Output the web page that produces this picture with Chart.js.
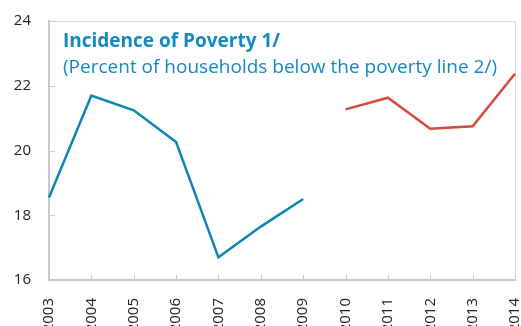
<!DOCTYPE html>
<html>
<head>
<meta charset="utf-8">
<script src="https://cdn.jsdelivr.net/npm/chart.js@4"></script>
<style>
  html, body { margin: 0; padding: 0; background: #fff; overflow: hidden; }
  #wrap { width: 521px; height: 346px; }
</style>
</head>
<body>
<div id="wrap"><canvas id="povertyChart" width="521" height="346"></canvas></div>
<script>
// Years on the x axis
const years = ['2003', '2004', '2005', '2006', '2007', '2008', '2009', '2010', '2011', '2012', '2013', '2014'];
// Old methodology (2003-2009) and new one (2010-2014)
const oldSeries = [18.55, 21.7, 21.24, 20.26, 16.7, 17.65, 18.5, null, null, null, null, null];
const newSeries = [null, null, null, null, null, null, null, 21.27, 21.63, 20.67, 20.75, 22.37];
const yTicks = [16, 18, 20, 22, 24];

const titleText = 'Incidence of Poverty 1/';
const subtitleText = '(Percent of households below the poverty line 2/)';

const FONT = '"Open Sans", "DejaVu Sans", sans-serif';
const AXIS_GREY = '#c9c9c9';

// frame around the plot, short inward tick marks and the title block
const framePlugin = {
  id: 'frame',
  beforeDatasetsDraw(chart) {
    const { ctx, chartArea: a, scales } = chart;
    ctx.save();
    ctx.strokeStyle = '#dadada';
    ctx.lineWidth = 1;
    ctx.beginPath();
    ctx.moveTo(a.left, a.top + 0.5);
    ctx.lineTo(a.right + 0.5, a.top + 0.5);
    ctx.lineTo(a.right + 0.5, a.bottom);
    ctx.stroke();

    ctx.strokeStyle = AXIS_GREY;
    ctx.lineWidth = 1;
    ctx.beginPath();
    scales.x.ticks.forEach((t, i) => {
      const x = Math.round(scales.x.getPixelForTick(i)) + 0.5;
      ctx.moveTo(x, a.bottom);
      ctx.lineTo(x, a.bottom - 5);
    });
    scales.y.ticks.forEach((t, i) => {
      const y = Math.round(scales.y.getPixelForTick(i)) + 0.5;
      ctx.moveTo(a.left, y);
      ctx.lineTo(a.left + 6, y);
    });
    ctx.stroke();

    ctx.fillStyle = '#1589bd';
    ctx.textBaseline = 'alphabetic';
    ctx.textAlign = 'left';
    ctx.font = 'bold 19px ' + FONT;
    ctx.fillText(titleText, a.left + 14, 47);
    ctx.font = '19px ' + FONT;
    ctx.fillText(subtitleText, a.left + 14, 73);
    ctx.restore();
  }
};

new Chart(document.getElementById('povertyChart'), {
  type: 'line',
  data: {
    labels: years,
    datasets: [
      { data: oldSeries, borderColor: '#0e86b3', borderWidth: 2.5, pointRadius: 0, tension: 0, spanGaps: false },
      { data: newSeries, borderColor: '#d9473f', borderWidth: 2.5, pointRadius: 0, tension: 0, spanGaps: false }
    ]
  },
  options: {
    responsive: false,
    animation: false,
    layout: { padding: { top: 21, right: 6, left: 0, bottom: 0 } },
    plugins: { legend: { display: false }, tooltip: { enabled: false } },
    scales: {
      x: {
        offset: false,
        grid: { display: false, drawTicks: false },
        border: { color: AXIS_GREY, width: 2 },
        ticks: {
          color: '#222', font: { family: FONT, size: 15 },
          minRotation: 90, maxRotation: 90, padding: 18, autoSkip: false
        },
        afterFit(scale) {
          scale.height = 66;
          scale.paddingLeft = 0;
          scale.paddingRight = 0;
        }
      },
      y: {
        min: 16, max: 24,
        afterBuildTicks(scale) { scale.ticks = yTicks.map(v => ({ value: v })); },
        grid: { display: false, drawTicks: false },
        border: { color: AXIS_GREY, width: 2 },
        ticks: { color: '#222', font: { family: FONT, size: 15 }, padding: 18 },
        afterFit(scale) {
          scale.width = 49;
          scale.paddingTop = 0;
          scale.paddingBottom = 0;
        }
      }
    }
  },
  plugins: [framePlugin]
});
</script>
</body>
</html>
